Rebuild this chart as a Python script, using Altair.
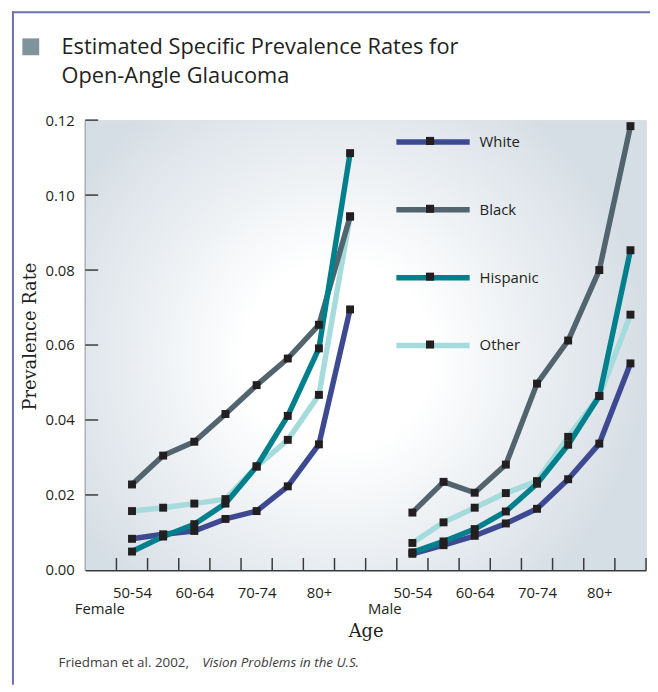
import altair as alt
import pandas as pd

# ---------------- data ----------------
races = ["White", "Black", "Hispanic", "Other"]
race_colors = ["#3d4a92", "#52656e", "#00808c", "#a5dbdc"]
sexes = ["Female", "Male"]
age_index = [0, 1, 2, 3, 4, 5, 6, 7]
age_tick_labels = ["50-54", "60-64", "70-74", "80+"]   # shown under every 2nd age group
y_tick_values = [0.0, 0.02, 0.04, 0.06, 0.08, 0.10, 0.12]

female_white = [0.0083, 0.0095, 0.0104, 0.0136, 0.0157, 0.0223, 0.0335, 0.0695]
female_black = [0.0228, 0.0305, 0.0342, 0.0416, 0.0493, 0.0564, 0.0654, 0.0943]
female_hispanic = [0.0049, 0.0089, 0.0122, 0.0177, 0.0276, 0.0411, 0.0591, 0.1112]
female_other = [0.0157, 0.0166, 0.0177, 0.0189, 0.0276, 0.0347, 0.0467, 0.0943]
male_white = [0.0043, 0.0066, 0.0091, 0.0124, 0.0163, 0.0242, 0.0337, 0.0551]
male_black = [0.0153, 0.0235, 0.0206, 0.0281, 0.0497, 0.0612, 0.0800, 0.1184]
male_hispanic = [0.0047, 0.0076, 0.0109, 0.0156, 0.0230, 0.0334, 0.0464, 0.0853]
male_other = [0.0072, 0.0127, 0.0166, 0.0205, 0.0237, 0.0355, 0.0464, 0.0681]

title_lines = ["Estimated Specific Prevalence Rates for", "Open-Angle Glaucoma"]
source_plain = "Friedman et al. 2002,"
source_italic = "Vision Problems in the U.S."

series = {
    ("Female", "White"): female_white, ("Female", "Black"): female_black,
    ("Female", "Hispanic"): female_hispanic, ("Female", "Other"): female_other,
    ("Male", "White"): male_white, ("Male", "Black"): male_black,
    ("Male", "Hispanic"): male_hispanic, ("Male", "Other"): male_other,
}
rows = []
for race in ["Other", "White", "Black", "Hispanic"]:
    for sex in sexes:
        for i, v in zip(age_index, series[(sex, race)]):
            rows.append({"sex": sex, "race": race, "race2": race + " ", "age_idx": i, "rate": v})
df = pd.DataFrame(rows)

# band layout: 18 slots, female groups in slots 1..8, male groups in slots 10..17
N_SLOTS = 18
x_tick_values = list(range(1, N_SLOTS + 1))
label_map = []
for k, lab in enumerate(age_tick_labels):
    label_map.append((2 * k + 1.5, lab))
    label_map.append((2 * k + 10.5, lab))
sex_label_pos = [(0.45, "Female"), (9.6, "Male")]
expr = ""
for v, lab in label_map:
    expr += f"datum.value == {v} ? '{lab}' : "
for v, lab in sex_label_pos:
    expr += f"datum.value == {v} ? ['', '{lab}'] : "
expr += "''"

W, H = 566, 454
FONT = "Open Sans"
SERIF = "DejaVu Serif"
INK = "#231f20"
AXIS = "#3a3a3a"

x_scale = alt.Scale(domain=[0, N_SLOTS], nice=False, zero=False)
y_scale = alt.Scale(domain=[0, 0.12], nice=False)

x_axis = alt.Axis(values=[v for v, _ in label_map] + [v for v, _ in sex_label_pos],
                  labelExpr=expr, ticks=False, grid=False,
                  domainColor=AXIS, domainWidth=2,
                  labelFont=FONT, labelFontSize=15, labelColor=INK, labelPadding=16,
                  labelLineHeight=16, labelOverlap=False, labelFlush=False,
                  title="Age", titleFont=SERIF, titleFontSize=18, titleFontWeight="normal",
                  titleColor=INK, titlePadding=6)
y_axis = alt.Axis(values=y_tick_values, format=".2f", ticks=False, grid=False,
                  domainColor=AXIS, domainWidth=2,
                  labelFont=FONT, labelFontSize=15, labelColor=INK, labelPadding=11,
                  title="Prevalence Rate", titleFont=SERIF, titleFontSize=18,
                  titleFontWeight="normal", titleColor=INK, titlePadding=6, titleY=218)

pos_expr = "datum.age_idx + (datum.sex === 'Male' ? 10.5 : 1.5)"

# background gradient of plot area
bg = alt.Chart(pd.DataFrame({"a": [0]})).mark_rect(
    fill={"gradient": "radial",
          "stops": [{"offset": 0, "color": "#ffffff"},
                    {"offset": 0.3, "color": "#ffffff"},
                    {"offset": 1, "color": "#d6dee5"}],
          "x1": 0.45, "y1": 0.52, "r1": 0, "x2": 0.45, "y2": 0.52, "r2": 0.55}
).encode(x=alt.value(0), x2=alt.value(W), y=alt.value(0), y2=alt.value(H))

# inward tick marks
yticks = alt.Chart(pd.DataFrame({"v": y_tick_values[1:]})).mark_rule(
    color=AXIS, strokeWidth=1.5
).encode(y=alt.Y("v:Q", scale=y_scale), x=alt.value(0), x2=alt.value(13))

xticks = alt.Chart(pd.DataFrame({"v": x_tick_values})).mark_rule(
    color=AXIS, strokeWidth=1.5
).encode(x=alt.X("v:Q", scale=x_scale), y=alt.value(H), y2=alt.value(H - 12))

base = alt.Chart(df).transform_calculate(xpos=pos_expr)

LEG_X = 311
SYM = 5476

lines = base.mark_line(strokeWidth=5.5, strokeJoin="round").encode(
    x=alt.X("xpos:Q", scale=x_scale, axis=x_axis),
    y=alt.Y("rate:Q", scale=y_scale, axis=y_axis),
    color=alt.Color("race:N", scale=alt.Scale(domain=races, range=race_colors),
                    legend=alt.Legend(orient="none", legendX=LEG_X, legendY=-18, title=None,
                                      symbolType="stroke", symbolSize=SYM,
                                      symbolStrokeWidth=5.5, padding=0,
                                      labelFont=FONT, labelFontSize=15, labelColor=INK,
                                      labelOffset=7, rowPadding=17.5)),
    detail="sex:N",
)

points = base.mark_square(size=64, opacity=1).encode(
    x=alt.X("xpos:Q", scale=x_scale),
    y=alt.Y("rate:Q", scale=y_scale),
    fill=alt.Fill("race2:N", scale=alt.Scale(range=["#231f20"] * 4),
                  legend=alt.Legend(orient="none", legendX=LEG_X, legendY=-16, title=None,
                                    symbolType="M-0.11,-0.11H0.11V0.11H-0.11Z",
                                    symbolSize=SYM, symbolStrokeWidth=0, padding=0,
                                    symbolFillColor="#231f20",
                                    labelFont=FONT, labelFontSize=15, labelExpr="''",
                                    labelOffset=7, rowPadding=23.5)),
)

title = alt.Chart(pd.DataFrame({"t": ["\n".join(title_lines)]})).mark_text(
    align="left", baseline="alphabetic", font=FONT, fontSize=22, color=INK,
    lineBreak="\n", lineHeight=30
).encode(text="t:N", x=alt.value(-24), y=alt.value(-67))

title_box = alt.Chart(pd.DataFrame({"a": [0]})).mark_square(
    size=289, color="#7f939c", opacity=1
).encode(x=alt.value(-55), y=alt.value(-74))

src1 = alt.Chart(pd.DataFrame({"t": [source_plain]})).mark_text(
    align="left", baseline="alphabetic", font=FONT, fontSize=13.5, color="#3b3b3b"
).encode(text="t:N", x=alt.value(-27), y=alt.value(552))
src2 = alt.Chart(pd.DataFrame({"t": [source_italic]})).mark_text(
    align="left", baseline="alphabetic", font=FONT, fontSize=13.5, fontStyle="italic",
    color="#3b3b3b"
).encode(text="t:N", x=alt.value(118), y=alt.value(552))

frame_left = alt.Chart(pd.DataFrame({"a": [0]})).mark_rule(
    color="#6d71b0", strokeWidth=2
).encode(x=alt.value(-73), y=alt.value(-110), y2=alt.value(570))
frame_top = alt.Chart(pd.DataFrame({"a": [0]})).mark_rule(
    color="#6d71b0", strokeWidth=2
).encode(y=alt.value(-109), x=alt.value(-74), x2=alt.value(570))

chart = alt.layer(
    bg, xticks, yticks, lines, points, title_box, title, src1, src2, frame_left, frame_top
).properties(
    width=W, height=H,
    autosize=alt.AutoSizeParams(type="none"),
    padding={"left": 78, "top": 110, "right": 4, "bottom": 115},
).configure_view(stroke=None).configure(background="#ffffff")

chart.save("out.html", embed_options={"renderer": "svg", "actions": False})
